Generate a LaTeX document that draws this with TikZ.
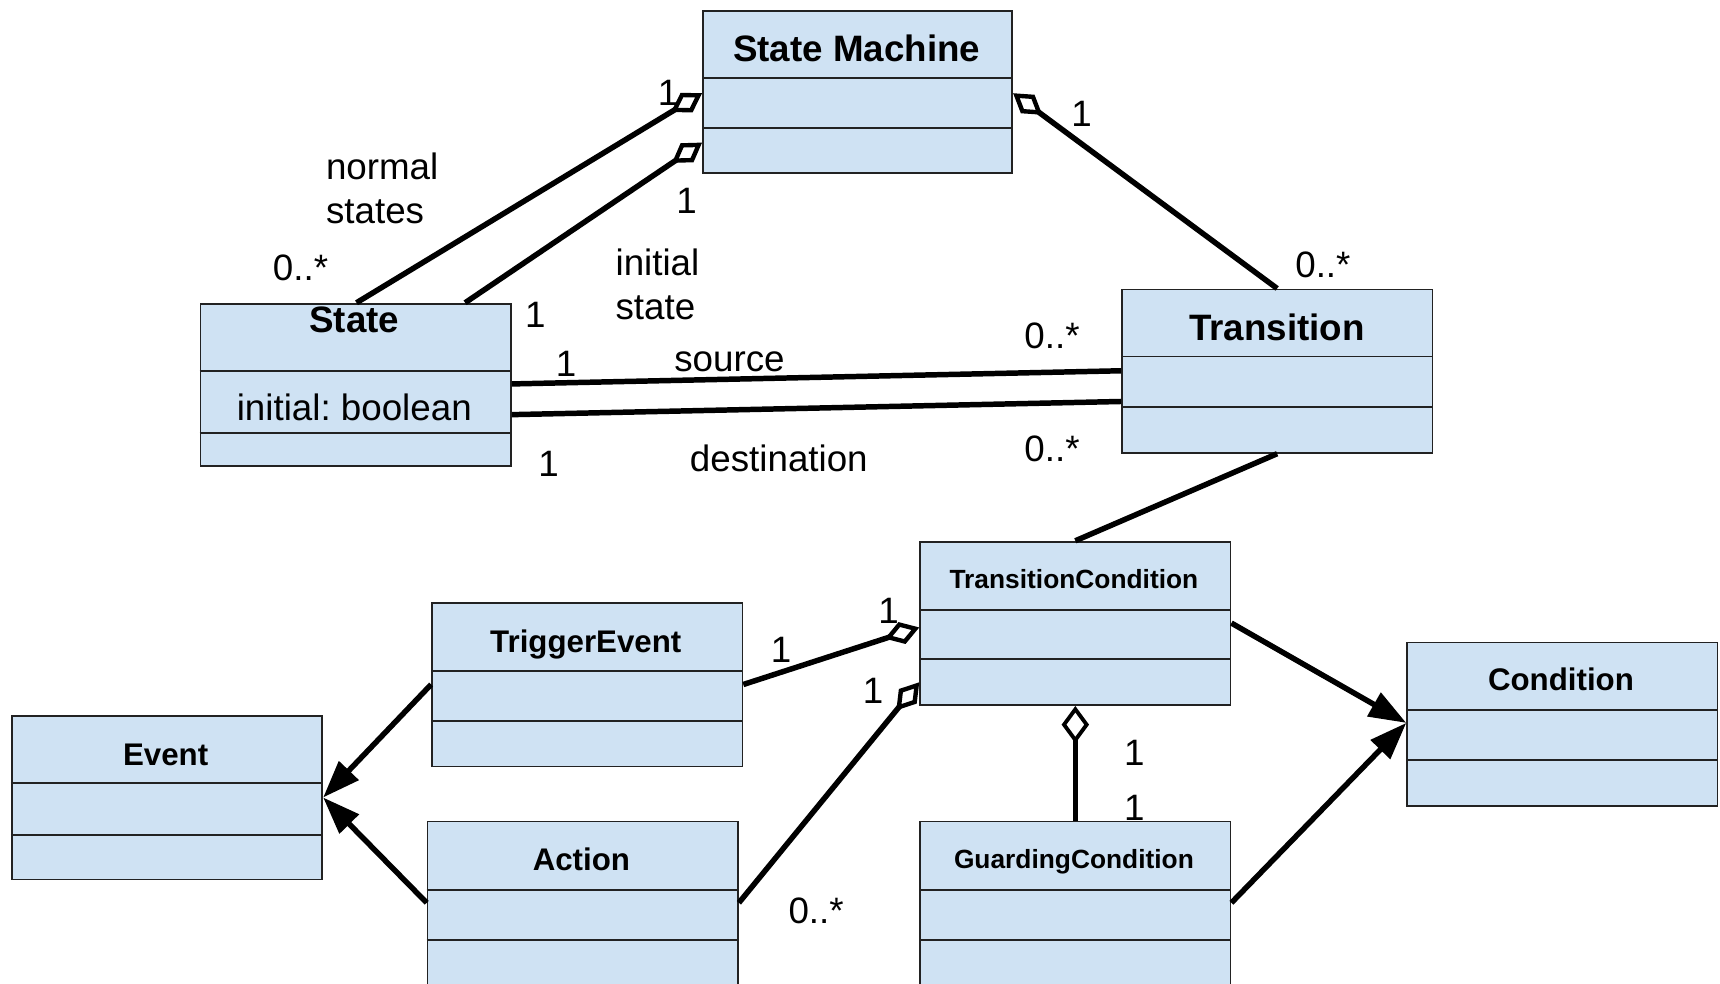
\documentclass[tikz,border=0pt]{standalone}
\usepackage{fontspec}
\setmainfont{Liberation Sans}
\frenchspacing
\usetikzlibrary{arrows.meta}
\definecolor{boxfill}{HTML}{CFE2F3}
\definecolor{boxline}{HTML}{222222}
\tikzset{
  cls/.style={draw=boxline, fill=boxfill, line width=1.6pt, minimum width=283pt, minimum height=149pt, inner sep=0pt, anchor=north west},
  sep/.style={draw=boxline, line width=1.6pt},
  tbig/.style={font=\fontsize{33.5}{40}\selectfont\bfseries, inner sep=0pt, text height=24pt, text depth=0pt},
  tmid/.style={font=\fontsize{28.5}{34}\selectfont\bfseries, inner sep=0pt, text height=20.5pt, text depth=0pt},
  tsmall/.style={font=\fontsize{24}{29}\selectfont\bfseries, inner sep=0pt, text height=17.3pt, text depth=0pt},
  lbl/.style={font=\fontsize{33.5}{40}\selectfont, inner sep=0pt, text height=24pt, text depth=0pt},
  mlbl/.style={font=\fontsize{33.5}{40}\selectfont, inner sep=0pt, align=left, anchor=west},
  conn/.style={line width=5pt, draw=black},
  agg/.style={conn, -{Diamond[fill=white, length=33pt, width=21pt, line width=4pt]}},
  aggs/.style={conn, {Diamond[fill=white, length=33pt, width=21pt, line width=4pt]}-},
  aggv/.style={conn, line width=4.5pt, {Diamond[fill=white, length=34pt, width=25pt, line width=3.5pt]}-},
  gen/.style={conn, -{Triangle[length=34pt, width=24pt]}},
}
\begin{document}
\begin{tikzpicture}[x=1pt, y=-1pt]
\path[use as bounding box, clip] (0,0) rectangle (1568,897);
\fill[white] (0,0) rectangle (1568,897);

% classes
\node[cls, minimum width=282pt, minimum height=148pt] (sm) at (640,9) {};
\draw[sep] ([yshift=-62pt]sm.north west) -- ([yshift=-62pt]sm.north east);
\draw[sep] ([yshift=-108pt]sm.north west) -- ([yshift=-108pt]sm.north east);
\node[tbig] (smt) at (781,44) {State Machine};

\node[cls, minimum height=148pt] (st) at (182,276) {};
\draw[sep] ([yshift=-62pt]st.north west) -- ([yshift=-62pt]st.north east);
\draw[sep] ([yshift=-119pt]st.north west) -- ([yshift=-119pt]st.north east);
\node[tbig] (stt) at (323,291) {State};
\node[lbl] (sta) at (323,371) {initial: boolean};

\node[cls] (tr) at (1022,263) {};
\draw[sep] ([yshift=-62pt]tr.north west) -- ([yshift=-62pt]tr.north east);
\draw[sep] ([yshift=-108pt]tr.north west) -- ([yshift=-108pt]tr.north east);
\node[tbig] (trt) at (1164,298) {Transition};

\node[cls] (tc) at (838,493) {};
\draw[sep] ([yshift=-63pt]tc.north west) -- ([yshift=-63pt]tc.north east);
\draw[sep] ([yshift=-108pt]tc.north west) -- ([yshift=-108pt]tc.north east);
\node[tsmall] (tct) at (979,528) {TransitionCondition};

\node[cls] (te) at (393,549) {};
\draw[sep] ([yshift=-63pt]te.north west) -- ([yshift=-63pt]te.north east);
\draw[sep] ([yshift=-108pt]te.north west) -- ([yshift=-108pt]te.north east);
\node[tmid] (tet) at (534,585) {TriggerEvent};

\node[cls] (ev) at (10,652) {};
\draw[sep] ([yshift=-62pt]ev.north west) -- ([yshift=-62pt]ev.north east);
\draw[sep] ([yshift=-109pt]ev.north west) -- ([yshift=-109pt]ev.north east);
\node[tmid] (evt) at (151,688) {Event};

\node[cls, minimum height=156pt] (ac) at (389,748) {};
\draw[sep] ([yshift=-63pt]ac.north west) -- ([yshift=-63pt]ac.north east);
\draw[sep] ([yshift=-109pt]ac.north west) -- ([yshift=-109pt]ac.north east);
\node[tmid] (act) at (530,783) {Action};

\node[cls, minimum height=156pt] (gc) at (838,748) {};
\draw[sep] ([yshift=-63pt]gc.north west) -- ([yshift=-63pt]gc.north east);
\draw[sep] ([yshift=-109pt]gc.north west) -- ([yshift=-109pt]gc.north east);
\node[tsmall] (gct) at (979,783) {GuardingCondition};

\node[cls] (co) at (1282,585) {};
\draw[sep] ([yshift=-62pt]co.north west) -- ([yshift=-62pt]co.north east);
\draw[sep] ([yshift=-108pt]co.north west) -- ([yshift=-108pt]co.north east);
\node[tmid] (cot) at (1423,619) {Condition};

% connectors
\draw[agg] ([xshift=143pt]st.north west) -- ([yshift=-76pt]sm.north west);
\draw[agg] ([xshift=242pt]st.north west) -- ([yshift=-121pt]sm.north west);
\draw[aggs] ([yshift=-76pt]sm.north east) -- (tr.north);
\draw[conn] ([yshift=-74pt]st.north east) -- ([yshift=-75pt]tr.north west);
\draw[conn] ([yshift=-102pt]st.north east) -- ([yshift=-103pt]tr.north west);
\draw[conn] (tr.south) -- (tc.north);
\draw[agg] ([yshift=-75pt]te.north east) -- ([yshift=-79pt]tc.north west);
\draw[agg] ([yshift=-75pt]ac.north east) -- ([yshift=-129pt]tc.north west);
\draw[aggv] (tc.south) -- (gc.north);
\draw[gen] ([yshift=-75pt]tc.north east) -- ([yshift=-74pt]co.north west);
\draw[gen] ([yshift=-75pt]gc.north east) -- ([yshift=-74pt]co.north west);
\draw[gen] ([yshift=-75pt]te.north west) -- ([yshift=-75pt]ev.north east);
\draw[gen] ([yshift=-75pt]ac.north west) -- ([yshift=-75pt]ev.north east);

% labels
\node[lbl] (l1) at (609,84) {1};
\node[mlbl] (l2) at (297,172) {normal\\states};
\node[lbl] (l3) at (274,244) {0..*};
\node[lbl] (l4) at (626,183) {1};
\node[lbl] (l5) at (488,287) {1};
\node[mlbl] (l6) at (561,259) {initial\\state};
\node[lbl] (l7) at (986,103) {1};
\node[lbl] (l8) at (1206,241) {0..*};
\node[lbl] (l9) at (516,331) {1};
\node[lbl] (l10) at (665,327) {source};
\node[lbl] (l11) at (959,306) {0..*};
\node[lbl] (l12) at (500,422) {1};
\node[lbl] (l13) at (710,418) {destination};
\node[lbl] (l14) at (959,409) {0..*};
\node[lbl] (l15) at (712,592) {1};
\node[lbl] (l16) at (810,556) {1};
\node[lbl] (l17) at (796,629) {1};
\node[lbl] (l18) at (744,830) {0..*};
\node[lbl] (l19) at (1034,686) {1};
\node[lbl] (l20) at (1034,736) {1};
\end{tikzpicture}
\end{document}
